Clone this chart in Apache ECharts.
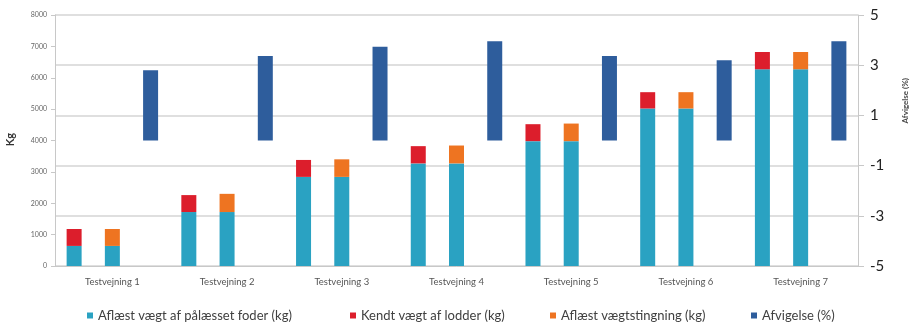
<!DOCTYPE html>
<html>
<head>
<meta charset="utf-8">
<script src="https://cdn.jsdelivr.net/npm/echarts@6/dist/echarts.min.js"></script>
<style>
  html, body { margin: 0; padding: 0; background: #ffffff; }
  #chart { width: 913px; height: 325px; }
</style>
</head>
<body>
<div id="chart"></div>
<script>
// Test weighings
var groups = ['Testvejning 1', 'Testvejning 2', 'Testvejning 3', 'Testvejning 4',
              'Testvejning 5', 'Testvejning 6', 'Testvejning 7'];
// Read feed weight on the scale (kg)
var foder = [640, 1720, 2840, 3270, 3980, 5020, 6270];
// Known weight of test weights (kg)
var lodder = [540, 540, 540, 550, 540, 520, 550];
// Read weight increase (kg)
var stigning = [540, 580, 560, 570, 560, 520, 550];
// Deviation (%)
var afvigelse = [2.8, 3.37, 3.74, 3.95, 3.37, 3.2, 3.95];

var kgTicks = [0, 8000, 1000];
var pctTicks = [-5, 5, 2];

var names = {
  foder: 'Aflæst vægt af pålæsset foder (kg)',
  lodder: 'Kendt vægt af lodder (kg)',
  stigning: 'Aflæst vægtstingning (kg)',
  afv: 'Afvigelse (%)'
};

// Each test weighing gets three slots: weights bar, increase bar, deviation bar
var slots = [];
var sFoder = [], sLodder = [], sStig = [], sAfv = [];
groups.forEach(function (g, i) {
  slots.push(i + 'a', i + 'b', i + 'c');
  sFoder.push(foder[i], foder[i], null);
  sLodder.push(lodder[i], null, null);
  sStig.push(null, stigning[i], null);
  sAfv.push(null, null, afvigelse[i]);
});

var font = 'Lato, "Noto Sans", sans-serif';
var axisGray = '#c8c8c8';

var chart = echarts.init(document.getElementById('chart'), null, { renderer: 'canvas' });

function legendAt(name, x) {
  return {
    data: [name],
    left: x,
    top: 304,
    itemWidth: 6,
    itemHeight: 6,
    icon: 'rect',
    selectedMode: false,
    textStyle: { fontFamily: font, fontSize: 13, color: '#404040', padding: [0, 0, 0, 0] }
  };
}

chart.setOption({
  animation: false,
  backgroundColor: '#ffffff',
  grid: { left: 55, right: 55, top: 15, bottom: 59 },
  legend: [
    legendAt(names.foder, 82),
    legendAt(names.lodder, 345),
    legendAt(names.stigning, 545),
    legendAt(names.afv, 746)
  ],
  graphic: [
    {
      type: 'text', left: 5, top: 133, rotation: Math.PI / 2,
      style: { text: 'Kg', font: 'bold 11px ' + font, fill: '#333' }
    },
    {
      type: 'text', left: 901, top: 78, rotation: Math.PI / 2,
      style: { text: 'Afvigelse (%)', font: 'bold 8px ' + font, fill: '#444' }
    }
  ],
  xAxis: {
    type: 'category',
    data: slots,
    boundaryGap: true,
    axisLine: { lineStyle: { color: axisGray, width: 1 } },
    axisTick: { interval: 0, length: 4, lineStyle: { color: axisGray } },
    axisLabel: {
      interval: 0,
      margin: 11,
      fontFamily: font,
      fontSize: 9.5,
      color: '#555',
      formatter: function (v, idx) {
        return idx % 3 === 1 ? groups[Math.floor(idx / 3)] : '';
      }
    }
  },
  yAxis: [
    {
      type: 'value',
      min: kgTicks[0], max: kgTicks[1], interval: kgTicks[2],
      axisLine: { show: true, lineStyle: { color: axisGray } },
      axisTick: { show: true, length: 4, lineStyle: { color: axisGray } },
      splitLine: { show: false },
      axisLabel: {
        fontFamily: font, fontSize: 7, color: '#666', margin: 8,
        formatter: function (v) { return String(v); }
      }
    },
    {
      type: 'value',
      min: pctTicks[0], max: pctTicks[1], interval: pctTicks[2],
      position: 'right',
      axisLine: { show: true, lineStyle: { color: axisGray } },
      axisTick: { show: true, length: 6, lineStyle: { color: axisGray } },
      splitLine: { show: true, lineStyle: { color: '#d4d4d4', width: 1.5 } },
      axisLabel: { fontFamily: font, fontSize: 15, color: '#222', margin: 12 }
    }
  ],
  series: [
    {
      name: names.foder, type: 'bar', stack: 'kg', yAxisIndex: 0,
      data: sFoder, barWidth: 15, barGap: '-100%',
      itemStyle: { color: '#2aa2c2' }
    },
    {
      name: names.lodder, type: 'bar', stack: 'kg', yAxisIndex: 0,
      data: sLodder, barWidth: 15, barGap: '-100%',
      itemStyle: { color: '#dc1e2c' }
    },
    {
      name: names.stigning, type: 'bar', stack: 'kg', yAxisIndex: 0,
      data: sStig, barWidth: 15, barGap: '-100%',
      itemStyle: { color: '#ee7421' }
    },
    {
      name: names.afv, type: 'bar', yAxisIndex: 1,
      data: sAfv, barWidth: 15, barGap: '-100%',
      itemStyle: { color: '#2e5d9c' }
    }
  ]
});
</script>
</body>
</html>
